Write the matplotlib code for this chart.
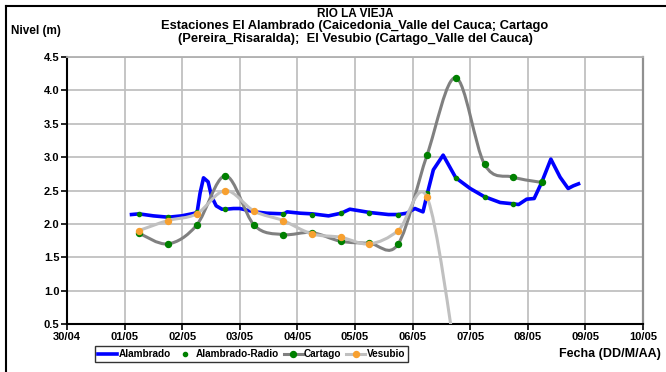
import matplotlib
matplotlib.use("Agg")
import matplotlib.pyplot as plt
from matplotlib.path import Path
from matplotlib.patches import PathPatch
from matplotlib.lines import Line2D
import numpy as np

# dias contados desde el 30/04 00:00
dias_alambrado = [1.12, 1.25, 1.50, 1.76, 1.99, 2.22, 2.26, 2.31, 2.37, 2.45, 2.51, 2.59,
                  2.69, 2.76, 2.89, 3.00, 3.26, 3.47, 3.77, 3.82, 4.05, 4.26, 4.54,
                  4.76, 4.91, 5.26, 5.58, 5.75, 5.90, 6.04, 6.18, 6.26, 6.36, 6.53,
                  6.75, 7.00, 7.24, 7.52, 7.75, 7.84, 7.98, 8.11, 8.24, 8.40, 8.56,
                  8.70, 8.79, 8.88]
nivel_alambrado = [2.14, 2.15, 2.12, 2.10, 2.12, 2.16, 2.18, 2.46, 2.69, 2.63, 2.41, 2.27,
                   2.22, 2.22, 2.23, 2.23, 2.18, 2.16, 2.15, 2.18, 2.16, 2.15, 2.12,
                   2.16, 2.22, 2.17, 2.14, 2.14, 2.16, 2.23, 2.18, 2.47, 2.81, 3.03,
                   2.69, 2.53, 2.41, 2.32, 2.30, 2.29, 2.37, 2.38, 2.62, 2.97, 2.70,
                   2.53, 2.57, 2.60]

dias_12h = [1.25, 1.75, 2.25, 2.75, 3.25, 3.75, 4.25, 4.75, 5.25, 5.75, 6.25, 6.75,
            7.25, 7.75, 8.25]
nivel_radio = [2.15, 2.11, 2.18, 2.22, 2.20, 2.15, 2.14, 2.16, 2.17, 2.13, 2.47, 2.69,
               2.41, 2.30, 2.62]
nivel_cartago = [1.86, 1.70, 1.98, 2.72, 1.98, 1.84, 1.87, 1.74, 1.71, 1.70, 3.03, 4.19,
                 2.89, 2.70, 2.62]

dias_vesubio = [1.25, 1.75, 2.25, 2.75, 3.25, 3.75, 4.25, 4.75, 5.25, 5.75, 6.25, 6.75]
nivel_vesubio = [1.90, 2.05, 2.15, 2.50, 2.19, 2.05, 1.85, 1.80, 1.70, 1.90, 2.40, 0.0]

etiquetas_x = ["30/04", "01/05", "02/05", "03/05", "04/05", "05/05", "06/05",
               "07/05", "08/05", "09/05", "10/05"]

plt.rcParams['font.family'] = ['Liberation Sans', 'DejaVu Sans']
plt.rcParams['font.weight'] = 'bold'


def linea_suave(ax, x, y, color, lw, zorder):
    # curva tipo "linea suavizada" de Excel (bezier a partir de los puntos)
    pts = np.column_stack([x, y])
    n = len(pts)
    verts = [pts[0]]
    codes = [Path.MOVETO]
    for i in range(n - 1):
        p0 = pts[i - 1] if i > 0 else pts[i]
        p1 = pts[i]
        p2 = pts[i + 1]
        p3 = pts[i + 2] if i + 2 < n else pts[i + 1]
        c1 = p1 + (p2 - p0) / 6.0
        c2 = p2 - (p3 - p1) / 6.0
        verts += [c1, c2, p2]
        codes += [Path.CURVE4] * 3
    patch = PathPatch(Path(verts, codes), facecolor='none', edgecolor=color,
                      lw=lw, zorder=zorder, capstyle='round', joinstyle='round')
    ax.add_patch(patch)


fig = plt.figure(figsize=(6.66, 3.72), dpi=100)
ax = fig.add_axes([0.1006, 0.129, 0.8649, 0.7178])

ax.plot(dias_alambrado, nivel_alambrado, color='#0000FF', lw=2.6, zorder=3,
        solid_joinstyle='round')
ax.plot(dias_12h, nivel_radio, ls='none', marker='o', ms=3, color='#008000',
        mec='#008000', zorder=4)
linea_suave(ax, dias_12h, nivel_cartago, '#808080', 2.2, 5)
ax.plot(dias_12h, nivel_cartago, ls='none', marker='o', ms=4.3, color='#008000',
        mec='#008000', zorder=6)
linea_suave(ax, dias_vesubio, nivel_vesubio, '#C0C0C0', 2.2, 7)
ax.plot(dias_vesubio, nivel_vesubio, ls='none', marker='o', ms=4.3, color='#F7A030',
        mec='#F7A030', zorder=8)

ax.set_xlim(0, 10)
ax.set_ylim(0.5, 4.5)
ax.set_xticks(range(11))
ax.set_xticklabels(etiquetas_x)
ax.set_yticks(np.arange(0.5, 4.51, 0.5))
ax.set_yticklabels(["%.1f" % v for v in np.arange(0.5, 4.51, 0.5)])
ax.tick_params(labelsize=8, length=4, width=1.2, color='black', pad=1.5)
ax.grid(True, color='#C0C0C0', lw=1.3, zorder=0)
ax.set_axisbelow(True)
ax.spines['left'].set_linewidth(1.5)
ax.spines['bottom'].set_linewidth(1.5)
ax.spines['top'].set_color('#B0B0B0')
ax.spines['top'].set_linewidth(1.3)
ax.spines['right'].set_color('#909090')
ax.spines['right'].set_linewidth(1.6)

fig.text(0.533, 0.962, "RIO LA VIEJA", ha='center', va='center', fontsize=8.5,
         fontweight='bold')
fig.text(0.533, 0.929, "Estaciones El Alambrado (Caicedonia_Valle del Cauca; Cartago",
         ha='center', va='center', fontsize=9.3, fontweight='bold')
fig.text(0.533, 0.896, "(Pereira_Risaralda);  El Vesubio (Cartago_Valle del Cauca)",
         ha='center', va='center', fontsize=9.3, fontweight='bold')
fig.text(0.016, 0.918, "Nivel (m)", ha='left', va='center', fontsize=8.5,
         fontweight='bold')
fig.text(0.992, 0.048, "Fecha (DD/M/AA)", ha='right', va='center', fontsize=9,
         fontweight='bold')

handles = [
    Line2D([], [], color='#0000FF', lw=2.6),
    Line2D([], [], ls='none', marker='o', ms=3, color='#008000'),
    Line2D([], [], color='#808080', lw=2.2, marker='o', ms=4.3, mfc='#008000',
           mec='#008000'),
    Line2D([], [], color='#C0C0C0', lw=2.2, marker='o', ms=4.3, mfc='#F7A030',
           mec='#F7A030'),
]
nombres = ["Alambrado", "Alambrado-Radio", "Cartago", "Vesubio"]
leg = fig.legend(handles, nombres, loc='center', bbox_to_anchor=(0.378, 0.048),
                 ncol=4, fontsize=7.2, frameon=True, fancybox=False,
                 edgecolor='black', handlelength=1.9, handletextpad=0.1,
                 columnspacing=0.5, borderpad=0.3)
leg.get_frame().set_linewidth(1.0)

# marco del grafico
fig.add_artist(Line2D([0.0095, 0.0095], [0.0, 0.985], color='black', lw=1.5,
                      transform=fig.transFigure))
fig.add_artist(Line2D([0.0095, 1.0], [0.985, 0.985], color='black', lw=1.5,
                      transform=fig.transFigure))

fig.savefig("out.png", dpi=100)
